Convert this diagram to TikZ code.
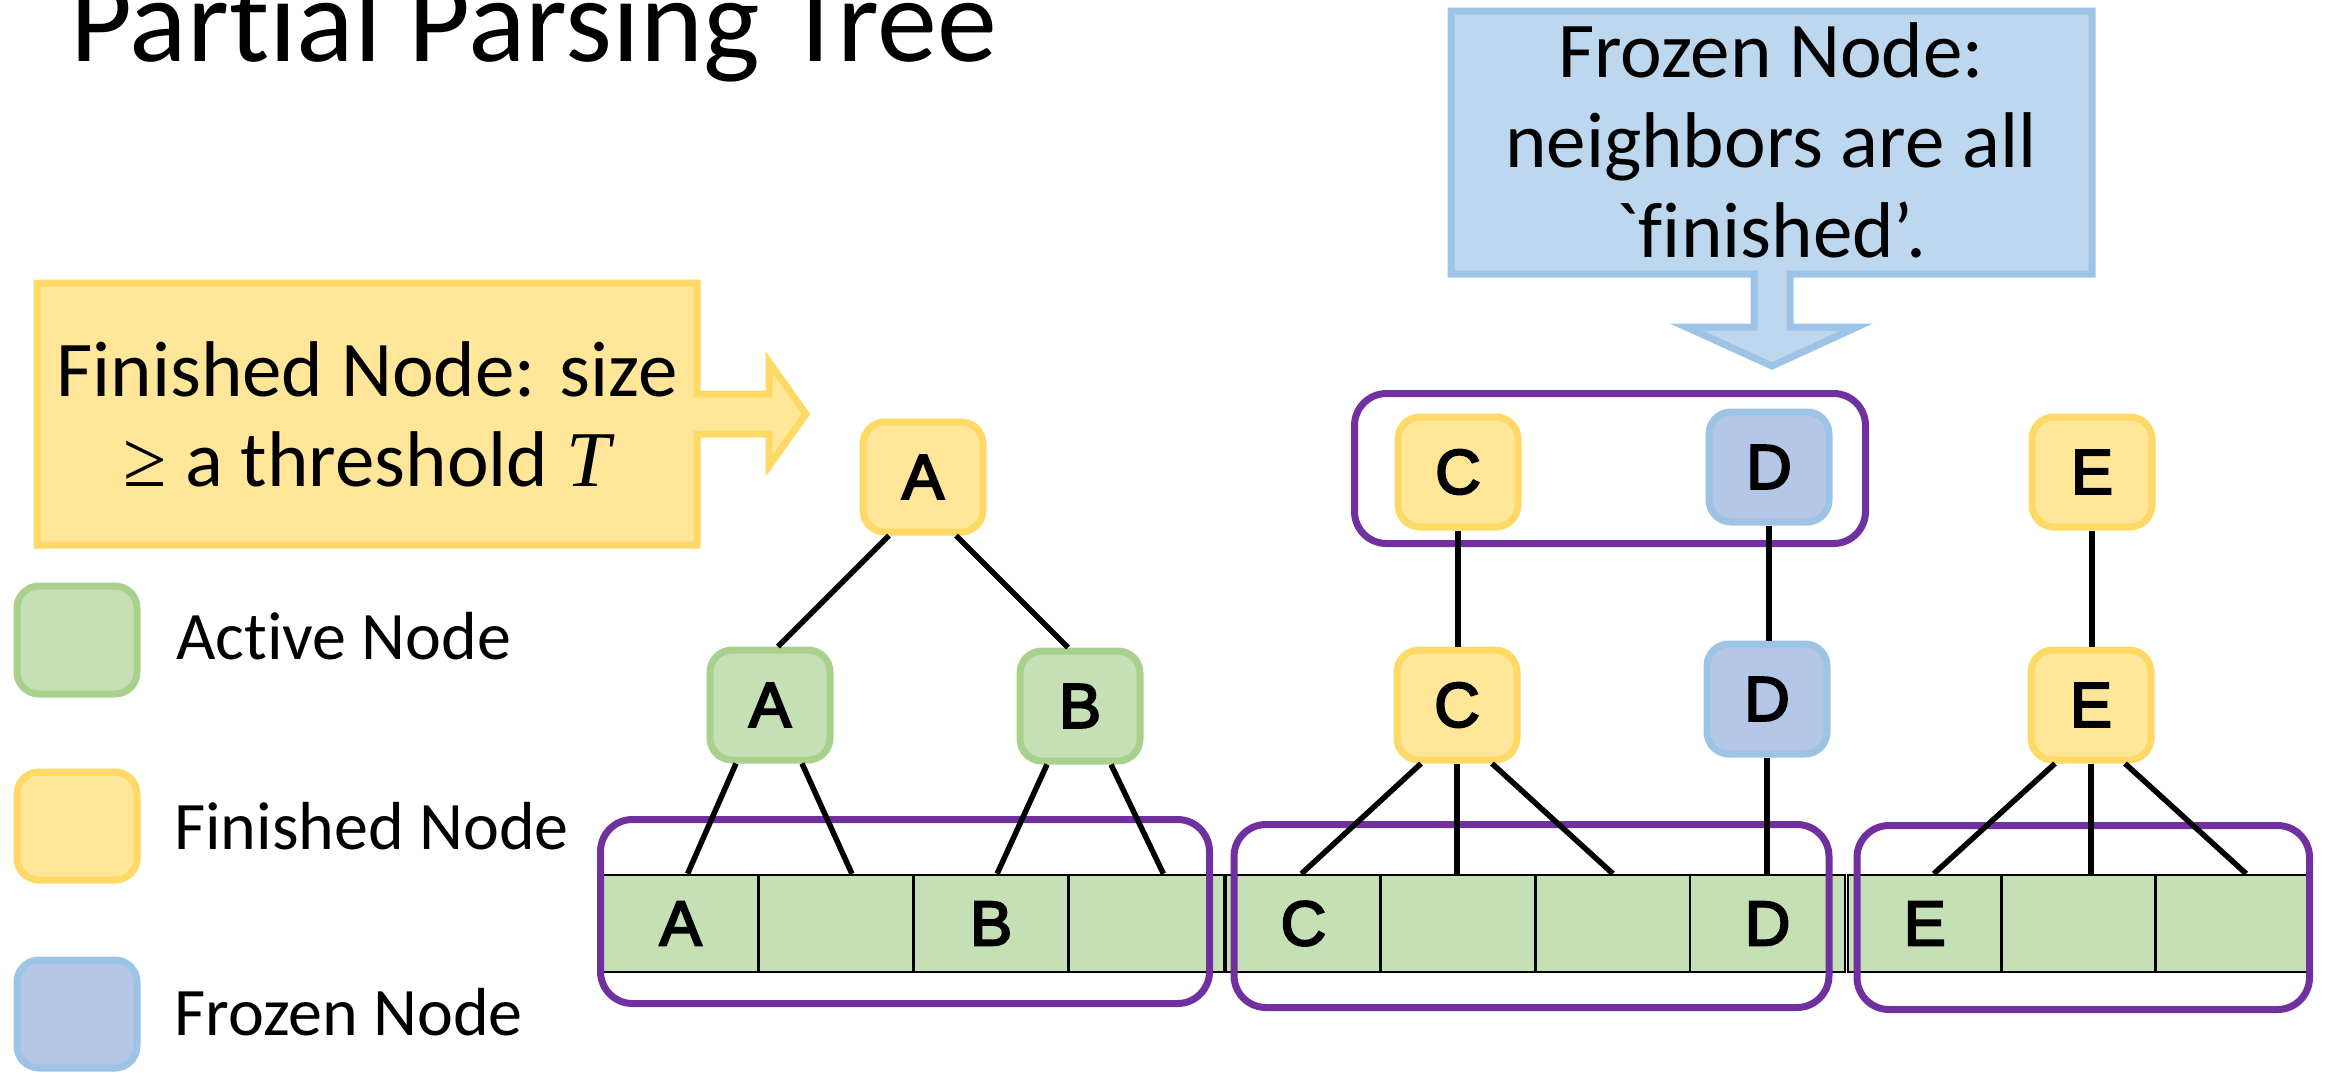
\documentclass[tikz,border=0pt]{standalone}
\usepackage{fontspec}
\setmainfont{Carlito}[Ligatures={TeX,NoCommon}]
\newfontfamily\callfont{Carlito}[Ligatures={TeXOff,NoCommon}]
\newfontfamily\letterfont{Liberation Sans}[FakeBold=3.5]
\newfontfamily\serifitfont{Liberation Serif}
\definecolor{actfill}{HTML}{C5E0B4}
\definecolor{actdraw}{HTML}{A9D18E}
\definecolor{finfill}{HTML}{FFE699}
\definecolor{findraw}{HTML}{FFD966}
\definecolor{frozfill}{HTML}{B4C7E7}
\definecolor{frozdraw}{HTML}{9DC3E6}
\definecolor{callblue}{HTML}{BDD7EE}
\definecolor{grpcol}{HTML}{7030A0}
\tikzset{
  tnode/.style={rectangle, rounded corners=22pt, minimum width=120pt, minimum height=110pt, line width=7pt, inner sep=0pt, font=\letterfont\fontsize{63}{70}\selectfont},
  anode/.style={tnode, fill=actfill, draw=actdraw},
  fnode/.style={tnode, fill=finfill, draw=findraw},
  znode/.style={tnode, fill=frozfill, draw=frozdraw},
  lgd/.style={tnode, minimum height=108pt},
  tcell/.style={rectangle, draw=black, line width=2.5pt, fill=actfill, minimum height=97pt, inner sep=0pt, font=\letterfont\fontsize{63}{70}\selectfont},
  grpbox/.style={draw=grpcol, line width=7pt, rounded corners=32pt},
  link/.style={draw=black, line width=5.5pt},
  lgdtext/.style={anchor=base west, inner sep=0pt, font=\fontsize{68}{80}\selectfont},
  calltext/.style={align=center, inner sep=0pt, font=\callfont\fontsize{79}{90}\selectfont},
  callout/.style={line width=7pt, line join=miter},
}
\begin{document}
\begin{tikzpicture}[x=1pt,y=-1pt]
\useasboundingbox (0,0) rectangle (2329,1072);

% title
\node[anchor=base west, inner sep=0pt, font=\fontsize{120}{130}\selectfont] (title) at (70,61) {Partial Parsing Tree};

% callouts
\draw[callout, fill=finfill, draw=findraw] (37,283) -- (697,283) -- (697,394) -- (769,394) -- (769,362) -- (806,414) -- (769,466) -- (769,434) -- (697,434) -- (697,545) -- (37,545) -- cycle;
\node[calltext] (fintext) at (367,414) {Finished Node: size\\{\serifitfont ≥} a threshold {\serifitfont\itshape T}};

\draw[callout, fill=callblue, draw=frozdraw] (1451,11) -- (2092,11) -- (2092,274) -- (1790,274) -- (1790,327) -- (1857,327) -- (1772,366) -- (1686,327) -- (1754,327) -- (1754,274) -- (1451,274) -- cycle;
\node[calltext] (frotext) at (1771,140) {Frozen Node:\\neighbors are all\\`finished’.};

% legend
\node[lgd, fill=actfill, draw=actdraw] (L1) at (77,640) {};
\node[lgd, fill=finfill, draw=findraw] (L2) at (77,826) {};
\node[lgd, fill=frozfill, draw=frozdraw] (L3) at (77,1014) {};
\node[lgdtext] (T1) at (176,659) {Active Node};
\node[lgdtext] (T2) at (174,849) {Finished Node};
\node[lgdtext] (T3) at (174,1035) {Frozen Node};

% token strip
\node[tcell, minimum width=155.25pt] (c1) at (680.6,923.5) {A};
\node[tcell, minimum width=155.25pt] (c2) at (835.9,923.5) {};
\node[tcell, minimum width=155.25pt] (c3) at (991.1,923.5) {B};
\node[tcell, minimum width=155.25pt] (c4) at (1146.4,923.5) {};
\node[tcell, minimum width=154.75pt] (c5) at (1303.4,923.5) {C};
\node[tcell, minimum width=154.75pt] (c6) at (1458.1,923.5) {};
\node[tcell, minimum width=154.75pt] (c7) at (1612.9,923.5) {};
\node[tcell, minimum width=154.75pt] (c8) at (1767.6,923.5) {D};
\node[tcell, minimum width=153.67pt] (c9) at (1924.8,923.5) {E};
\node[tcell, minimum width=153.67pt] (c10) at (2078.5,923.5) {};
\node[tcell, minimum width=153.67pt] (c11) at (2232.2,923.5) {};

% groups
\draw[grpbox] (600.5,819.5) rectangle (1209.5,1003.5);
\draw[grpbox] (1234,824.5) rectangle (1829,1007.5);
\draw[grpbox] (1857,825.5) rectangle (2309.5,1009.5);
\draw[grpbox] (1354.5,393.5) rectangle (1865.5,543.5);

% tree nodes
\node[fnode] (Atop) at (923,477) {A};
\node[anode] (Ag) at (770,705) {A};
\node[anode] (Bg) at (1080,706) {B};
\node[fnode] (Ctop) at (1458,472) {C};
\node[znode] (Dtop) at (1769,467) {D};
\node[fnode] (Etop) at (2092,472) {E};
\node[fnode] (Cmid) at (1457,705) {C};
\node[znode] (Dmid) at (1767,699) {D};
\node[fnode] (Emid) at (2091,705) {E};

% links
\draw[link] ([xshift=-34pt]Atop.south) -- ([xshift=8pt]Ag.north);
\draw[link] ([xshift=33pt]Atop.south) -- ([xshift=-12pt]Bg.north);
\draw[link] ([xshift=-34pt]Ag.south) -- ([xshift=7pt]c1.north);
\draw[link] ([xshift=32pt]Ag.south) -- ([xshift=16pt]c2.north);
\draw[link] ([xshift=-33pt]Bg.south) -- ([xshift=6pt]c3.north);
\draw[link] ([xshift=31pt]Bg.south) -- ([xshift=17pt]c4.north);
\draw[link] (Ctop.south) -- (Ctop.south |- Cmid.north);
\draw[link] (Dtop.south) -- (Dtop.south |- Dmid.north);
\draw[link] (Etop.south) -- (Etop.south |- Emid.north);
\draw[link] ([xshift=-36pt]Cmid.south) -- ([xshift=-2pt]c5.north);
\draw[link] (Cmid.south) -- (Cmid.south |- c6.north);
\draw[link] ([xshift=35pt]Cmid.south) -- (c7.north);
\draw[link] (Dmid.south) -- (Dmid.south |- c8.north);
\draw[link] ([xshift=-36pt]Emid.south) -- ([xshift=9pt]c9.north);
\draw[link] (Emid.south) -- (Emid.south |- c10.north);
\draw[link] ([xshift=34pt]Emid.south) -- ([xshift=14pt]c11.north);
\end{tikzpicture}
\end{document}
